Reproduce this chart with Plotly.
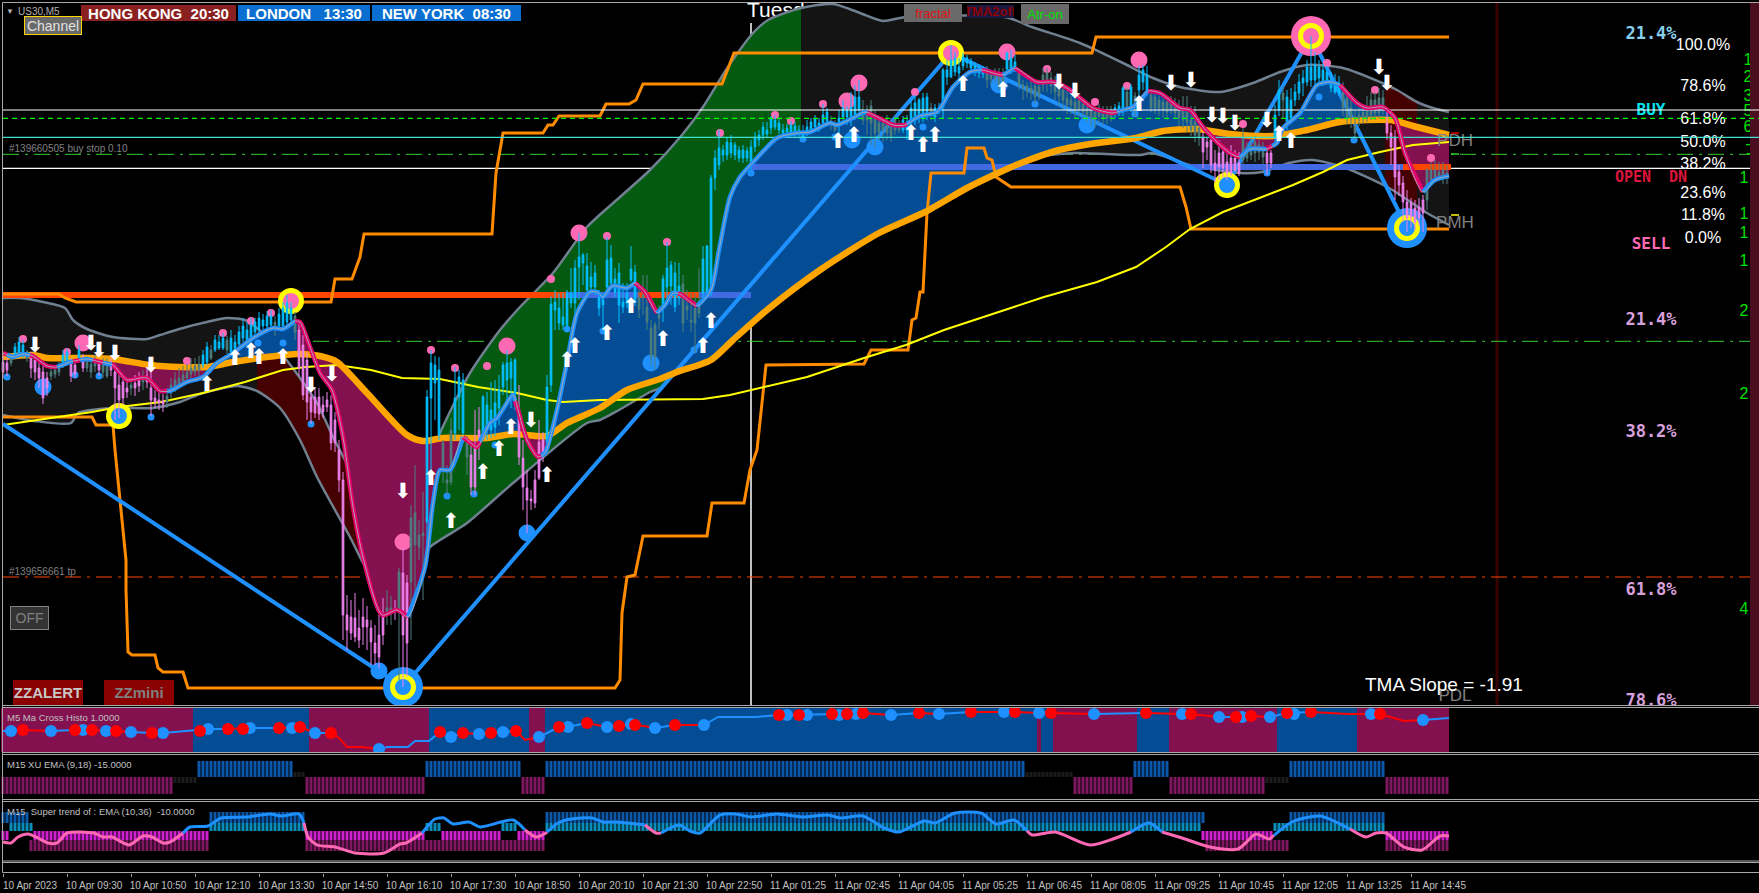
import numpy as np
import plotly.graph_objects as go

# ---- price pane: every level is read in points below the top of the window (axis reversed)
BAR_STEP = 4
BAR_KIND = ("vvtccctvvvvvtttc" "cvvcvtttvttvvvvv" "tvvtvvvvvttttttt" "ttcctccctccccccc"
            "cccctcccctvvvvvv" "vvvvvvvvvvvvvvvv" "ttvtvvttttcccctt" "tccctvvvcccccccc"
            "cvvvvvvvcccccccc" "ccccccccccccccct" "tttttccccctttttc" "cccccccccccccccc"
            "ccccccccccccccct" "tccccccttttttttt" "tccccccctccccccc" "cccccctttttccctt"
            "tttttttttttttttt" "ttttttccctctccct" "ttttttttttttvvvv" "vvvvvvttttttvvcc"
            "tcccccccccccccct" "ttttttttttvvvvvv" "vvvvtttttt")
BODY_TOP = [362,363,358,347,342,345,352,358,360,368,372,378,372,370,368,355,
 352,362,365,350,360,362,364,360,364,362,364,362,372,385,382,388,
 385,383,380,378,376,388,398,400,401,396,385,380,378,375,372,368,
 366,364,355,347,350,340,342,338,340,338,342,332,326,330,325,322,
 318,320,316,316,322,314,308,303,308,316,330,345,360,397,397,397,
 405,400,405,420,450,480,615,617,618,628,617,620,628,643,635,617,
 608,608,610,572,573,583,518,513,535,533,397,363,365,370,443,480,
 430,398,377,380,443,455,447,430,397,405,410,403,390,365,363,362,
 360,410,458,488,499,480,442,440,387,304,302,308,317,293,293,268,
 257,255,266,277,273,297,300,260,258,279,273,302,293,269,272,297,
 295,307,328,325,315,279,268,265,273,286,284,306,320,308,305,259,
 246,178,158,148,150,142,143,145,150,150,151,147,137,135,127,130,
 118,120,123,130,128,125,126,130,132,127,122,119,123,115,112,121,
 125,118,108,110,107,97,97,110,110,106,117,123,123,120,125,120,
 125,120,123,108,103,100,98,97,108,108,108,70,70,60,58,67,
 57,58,62,66,68,70,73,75,72,75,73,53,58,62,73,85,
 86,88,86,87,75,73,78,85,88,90,98,100,102,100,104,108,
 110,112,108,110,112,110,108,106,88,92,87,96,75,70,75,95,
 97,100,102,102,102,105,108,108,112,120,122,128,138,142,140,163,
 153,152,162,158,158,163,138,150,145,142,145,148,153,153,115,90,
 93,97,100,92,82,78,67,67,65,67,70,72,80,83,85,92,
 98,108,125,115,112,108,100,100,98,98,123,133,137,172,183,202,
 203,208,207,200,170,170,170,172,170,173]
BODY_BOTTOM = [372,370,363,356,355,354,358,368,372,378,398,388,376,374,372,365,
 362,376,374,358,368,368,372,366,370,372,376,370,388,400,398,392,
 388,388,386,382,382,400,402,403,404,402,392,388,384,382,378,374,
 372,370,365,362,358,350,348,348,350,352,352,344,338,342,338,332,
 330,326,326,325,330,326,326,322,320,332,368,395,402,412,413,414,
 412,407,443,443,480,615,630,633,637,640,627,627,642,653,657,635,
 612,612,612,610,635,643,582,545,547,536,522,398,383,435,467,483,
 482,433,397,433,457,487,487,437,433,430,430,427,408,387,380,378,
 395,457,487,500,501,503,478,453,443,385,310,323,325,325,303,303,
 267,263,290,287,287,308,305,287,283,292,305,307,303,280,302,309,
 298,322,357,357,318,308,287,286,307,298,323,310,322,323,313,293,
 293,288,178,165,155,155,153,155,158,158,158,162,147,140,135,134,
 128,127,130,133,132,132,132,134,136,132,130,127,127,123,121,125,
 130,125,117,117,118,117,110,120,120,123,133,132,130,133,137,130,
 130,130,130,120,120,118,118,116,113,117,110,107,77,77,72,73,
 66,63,68,71,73,74,80,79,78,85,84,69,68,67,85,88,
 92,93,97,95,85,80,86,92,96,100,105,105,112,110,112,115,
 118,120,116,118,118,118,112,110,108,107,107,106,90,82,90,108,
 108,108,110,112,110,113,118,120,122,130,135,138,152,147,165,170,
 167,168,173,173,170,173,160,158,155,153,152,157,163,163,137,110,
 100,122,118,100,93,83,82,80,80,78,82,80,88,92,92,108,
 117,118,133,118,118,118,115,113,113,108,133,147,177,185,202,218,
 217,222,218,213,200,180,177,177,177,177]
WICK_TOP = [356,358,354,343,337,340,350,352,355,360,366,372,368,366,362,350,
 349,358,360,345,354,358,360,355,360,358,358,358,364,375,376,380,
 378,375,372,370,368,372,390,392,394,388,378,372,368,366,364,358,
 358,356,350,342,345,335,335,333,336,330,335,326,318,322,318,318,
 312,314,311,310,316,308,302,295,302,312,322,335,352,380,388,388,
 396,392,395,412,440,472,595,600,593,610,598,606,620,625,615,598,
 590,596,600,568,548,575,505,465,520,492,390,350,356,357,440,465,
 418,367,370,373,436,440,410,407,395,392,382,380,375,362,350,358,
 358,385,440,470,490,470,420,432,375,296,290,293,293,290,268,260,
 233,253,253,262,265,290,293,237,245,268,263,283,283,246,265,287,
 275,275,320,322,305,275,242,261,262,263,275,290,293,293,268,246,
 245,175,150,130,145,138,135,142,146,145,147,140,132,130,122,122,
 116,115,118,124,124,121,122,125,125,120,118,115,118,104,108,116,
 120,110,100,106,92,85,80,100,105,100,110,118,118,115,118,115,
 120,116,115,100,95,98,93,93,103,104,103,68,60,45,52,58,
 53,55,58,62,64,66,66,70,68,68,68,52,50,55,68,80,
 82,80,80,82,68,68,72,76,82,84,90,96,96,96,100,104,
 104,108,104,106,106,106,104,102,86,88,84,92,66,65,66,90,
 92,96,98,96,96,98,100,96,96,106,106,118,132,138,132,150,
 140,145,148,145,150,152,128,142,138,136,140,142,148,150,105,80,
 86,90,88,84,74,70,60,36,52,60,64,66,72,74,76,82,
 90,96,110,108,104,96,92,92,88,90,112,125,130,165,176,190,
 198,200,198,195,168,162,160,162,162,165]
WICK_BOTTOM = [378,376,366,358,357,358,362,378,380,388,404,396,380,378,376,368,
 366,382,378,362,372,372,378,372,376,378,378,376,420,418,405,398,
 395,396,392,390,388,416,408,410,412,408,398,392,388,386,382,378,
 376,376,368,365,360,352,350,350,354,355,356,348,342,346,340,338,
 334,330,330,330,336,330,330,326,326,340,376,400,420,424,418,420,
 418,412,450,452,492,640,650,640,642,648,645,650,665,665,668,645,
 625,625,620,680,687,677,640,600,560,600,560,473,420,440,483,495,
 485,440,430,435,475,495,495,460,440,440,438,436,425,395,400,408,
 410,465,510,533,510,508,480,462,447,392,330,330,330,332,308,320,
 300,285,295,292,295,316,331,296,290,297,323,313,308,282,306,318,
 315,330,366,370,330,322,300,305,312,305,332,320,332,353,318,300,
 297,296,190,170,162,160,158,160,162,163,162,170,152,146,140,138,
 134,130,134,136,136,136,138,138,140,136,134,132,132,126,125,130,
 132,140,122,125,126,120,114,125,135,145,148,140,142,140,142,135,
 133,133,140,125,125,123,122,120,120,122,114,118,85,78,76,80,
 70,68,72,76,78,78,88,84,82,90,92,72,74,72,90,100,
 98,100,104,100,92,92,94,100,106,110,114,114,118,116,118,122,
 126,128,124,126,124,122,118,116,116,112,112,116,98,90,94,112,
 114,116,118,120,114,118,126,128,132,136,142,146,168,160,173,182,
 180,178,180,176,172,176,164,162,160,162,160,164,175,168,145,116,
 118,130,124,106,100,96,86,87,88,82,86,84,92,94,96,116,
 124,128,140,126,124,122,120,120,118,115,140,165,200,196,222,232,
 228,230,226,232,210,186,182,180,184,184]

UPPER_X = [3,20,43,65,73,87,113,147,160,190,207,227,245,253,270,285,300,317,333,350,372,395,425,440,470,500,520,553,587,620,650,682,703,726,753,768,801,833,860,883,906,1005,1032,1080,1100,1123,1153,1180,1220,1253,1280,1307,1343,1380,1397,1417,1433,1449]
UPPER_Y = [298,298,302,308,320,329,337,339,335,326,322,318,320,325,340,358,378,403,437,470,520,530,470,433,373,330,307,273,227,197,170,135,107,70,33,20,8,4,13,21,17,17,27,43,52,63,78,87,92,83,72,65,68,82,90,102,108,112]
LOWER_X = [3,34,71,78,115,153,180,203,237,257,280,300,317,350,372,400,425,430,467,513,587,600,619,650,660,680,700,750,800,850,900,950,1000,1050,1075,1140,1152,1190,1239,1262,1289,1312,1343,1389,1427,1449]
LOWER_Y = [415,421,423,413,408,408,402,393,386,391,408,440,477,537,578,600,555,547,523,483,423,420,410,392,388,368,350,310,278,240,208,180,165,155,153,155,153,165,173,172,163,160,167,188,213,225]
SLOW_X = [3,33,47,87,113,150,180,207,233,267,297,320,337,367,407,423,443,487,513,547,567,600,627,660,677,711,733,767,820,879,925,967,998,1021,1059,1097,1136,1163,1197,1230,1273,1307,1340,1390,1417,1449]
SLOW_Y = [357,355,358,358,359,365,367,367,362,357,354,356,362,393,435,441,438,438,434,436,423,408,390,379,372,360,340,310,270,233,212,188,173,163,150,143,138,131,129,134,136,130,122,120,127,135]
FAST_X = [3,13,23,33,47,57,70,87,100,113,127,140,147,160,170,187,203,217,233,253,273,283,295,300,310,320,332,343,353,363,382,397,408,425,433,440,450,463,477,490,497,513,518,527,538,545,557,567,577,590,597,603,612,627,635,645,657,665,673,680,697,711,719,730,740,757,777,797,810,830,837,853,865,883,893,905,920,937,953,970,982,1003,1015,1037,1053,1067,1080,1093,1113,1123,1133,1148,1160,1180,1190,1203,1217,1230,1240,1250,1267,1277,1283,1300,1317,1330,1340,1357,1367,1383,1395,1405,1423,1435,1449]
FAST_Y = [353,357,354,356,366,367,362,359,362,365,380,378,378,391,391,382,377,363,353,338,328,329,321,322,347,373,390,437,507,557,615,610,617,567,503,470,470,437,447,423,418,395,410,440,457,453,410,362,313,292,292,297,286,288,283,292,313,305,293,294,306,290,250,197,177,158,138,133,132,123,125,118,112,120,125,125,116,112,87,72,70,75,68,82,82,88,98,108,113,110,107,91,93,108,110,127,142,153,157,149,149,143,128,113,85,82,85,103,108,107,118,153,192,180,176]
FAST_TURNS = [3,7,30,57,73,80,93,103,112,167,295,408,463,480,515,541,635,657,678,697,867,907,982,1003,1015,1117,1148,1240,1267,1272,1340,1423,1449]
FILL_TURNS = [112,205,297,482,518,553,1205,1283,1395,1449]
TREND_X = [3,92,119,161,203,245,283,306,337,371,402,440,478,517,547,563,600,703,730,761,807,864,906,944,983,1044,1097,1136,1166,1190,1223,1267,1293,1323,1347,1380,1413,1449]
TREND_Y = [425,412,407,402,393,382,370,367,365,370,378,379,387,393,400,402,400,399,395,388,377,358,345,330,317,297,282,267,247,229,212,195,185,172,160,152,145,142]
RESIST_X = [3,59,65,76,331,335,352,360,364,492,496,503,543,548,553,559,600,606,629,636,643,722,734,1092,1096,1449]
RESIST_Y = [294,294,298,302,302,279,279,257,234,234,173,133,133,125,125,116,116,104,104,100,84,84,53,53,37,37]
SUPPORT_X = [3,92,96,113,115,126,126,127,128,132,155,158,163,183,188,615,620,622,627,635,643,707,712,744,750,757,762,766,864,871,908,912,916,920,923,927,931,964,967,984,987,992,996,1011,1180,1186,1191,1449]
SUPPORT_Y = [417,417,425,425,450,560,590,630,652,655,655,668,672,672,688,688,680,613,577,575,536,536,503,503,470,450,400,365,364,350,350,320,318,292,292,213,173,173,148,148,158,160,177,187,187,207,229,229]
ZIGZAG_X = [3,403,951,1227,1311,1407]
ZIGZAG_Y = [424,687,53,185,36,228]

PIVOT_HIGH_X = [291,951,1311]
PIVOT_HIGH_Y = [301,53,36]
PIVOT_LOW_X = [119,403,1227,1407]
PIVOT_LOW_Y = [416,687,185,228]
PINK_LARGE_X = [83,403,507,579,859,847,1007,1139]
PINK_LARGE_Y = [343,542,346,233,83,101,52,60]
PINK_SMALL_X = [23,67,187,223,251,271,431,455,487,551,607,667,720,775,791,823,915,1047,1095,1127,1243,1327,1375,1431]
PINK_SMALL_Y = [339,352,361,333,321,313,350,368,366,279,236,242,133,115,121,104,92,69,102,86,124,63,90,158]
BLUE_LARGE_X = [43,379,527,651,852,875,999,1087]
BLUE_LARGE_Y = [387,671,533,363,140,147,85,125]
BLUE_SMALL_X = [7,75,99,151,258,283,311,447,474,495,567,603,694,751,803,835,923,1035,1135,1267,1319,1354]
BLUE_SMALL_Y = [377,375,376,417,343,343,424,496,494,445,329,331,350,173,139,137,127,104,114,173,97,140]
ARROW_UP_X = [207,235,251,259,283,431,451,483,499,511,547,567,575,607,631,663,703,711,838,854,911,923,935,963,1003,1139,1279,1291]
ARROW_UP_Y = [386,360,353,359,359,480,523,474,451,429,477,362,348,335,308,341,348,323,143,137,135,147,137,86,92,106,136,143]
ARROW_DOWN_X = [35,91,99,115,151,311,332,403,531,1059,1075,1171,1191,1212,1223,1235,1267,1379,1387]
ARROW_DOWN_Y = [347,345,352,355,367,387,376,493,422,84,93,85,82,117,118,125,122,69,85]

# ---- lower panes
HISTO_RUNS = [48,29,30,25,4,123,1,3,21,8,27,20,23]            # alternating bear / bull bars
CROSS_X = [3,22,51,74,92,116,131,152,163,192,205,228,250,279,300,315,331,339,347,362,379,388,408,415,429,440,451,463,479,491,503,516,525,539,559,567,587,607,619,632,655,675,704,718,756,779,799,832,847,863,891,919,939,971,1004,1015,1039,1051,1094,1146,1182,1191,1219,1236,1251,1270,1287,1311,1348,1371,1380,1404,1423,1449]
CROSS_Y = [731,730,731,730,730,731,732,733,733,731,729,729,728,728,727,733,733,738,747,747,749,747,747,741,741,732,737,733,734,733,732,731,740,737,727,727,723,727,726,724,728,725,725,717,717,715,715,714,714,713,715,713,714,712,712,712,713,713,714,713,714,714,717,717,716,717,713,712,714,714,714,721,720,718]
CROSS_BLUE_X = [11,51,83,106,131,163,208,250,292,315,379,451,479,503,539,568,607,631,655,704,787,807,839,856,891,939,1004,1039,1094,1182,1219,1242,1270,1294,1371,1423]
CROSS_BLUE_Y = [731,731,730,731,732,733,729,728,728,733,749,737,734,732,737,727,727,724,728,725,715,715,715,714,715,714,712,713,714,714,717,717,717,714,714,720]
CROSS_RED_X = [23,75,92,116,152,200,228,243,279,300,331,440,463,491,516,559,587,619,635,675,779,799,832,847,863,919,971,1015,1051,1146,1191,1236,1251,1287,1311,1380]
CROSS_RED_Y = [730,730,730,731,733,731,729,729,728,727,733,732,733,733,731,727,723,726,725,725,715,715,714,714,713,713,712,712,713,713,714,717,716,713,712,714]
XU_RUNS = [("bear",43),("idle_dn",6),("bull",24),("idle_up",3),("bear",30),("bull",24),("bear",6),("bull",120),("idle_up",12),("bear",15),("bull",9),("bear",24),("idle_dn",6),("bull",24),("bear",16)]
TREND_OUTER_RUNS = [("bull",7),("bear",45),("bull",24),("bear",60),("bull",165),("bear",21),("bull",24),("bear",16)]
TREND_INNER_RUNS = [("bear",2),("bull",6),("bear",44),("bull",24),("bear",30),("bull",4),("bear",15),("bull",4),("bear",7),("bull",164),("bear",18),("bull",28),("bear",16)]
SUPER_X = [3,11,18,28,38,48,57,67,94,103,112,129,143,152,163,170,183,190,208,221,246,270,281,299,304,308,317,335,355,384,400,406,422,435,444,453,469,480,513,525,536,546,558,571,592,603,616,645,656,661,679,690,700,720,736,751,777,802,828,840,863,884,899,924,935,955,981,996,1014,1032,1055,1090,1113,1131,1149,1162,1182,1210,1238,1256,1269,1292,1320,1348,1366,1376,1386,1404,1422,1440,1449]
SUPER_Y = [842,843,837,834,838,843,843,833,833,837,837,845,836,837,843,842,833,827,826,818,817,814,816,814,823,837,845,847,853,853,844,843,833,819,818,824,822,827,820,830,837,833,823,819,818,822,822,825,833,833,825,831,833,815,814,817,814,817,815,818,816,828,832,821,823,813,813,824,820,835,832,845,839,832,823,832,838,847,849,834,839,822,816,828,837,833,833,847,850,836,836]
SUPER_TURNS = [3,183,304,422,525,547,645,661,1027,1131,1162,1274,1350,1449]

TIME_LABELS = ["10 Apr 2023","10 Apr 09:30","10 Apr 10:50","10 Apr 12:10","10 Apr 13:30","10 Apr 14:50","10 Apr 16:10","10 Apr 17:30","10 Apr 18:50","10 Apr 20:10","10 Apr 21:30","10 Apr 22:50","11 Apr 01:25","11 Apr 02:45","11 Apr 04:05","11 Apr 05:25","11 Apr 06:45","11 Apr 08:05","11 Apr 09:25","11 Apr 10:45","11 Apr 12:05","11 Apr 13:25","11 Apr 14:45"]
FIB_LABELS = ["100.0%","78.6%","61.8%","50.0%","38.2%","23.6%","11.8%","0.0%"]
FIB_LEVELS = [46,87,120,143,165,194,216,239]
ZONE_LABELS = ["21.4%","BUY","OPEN\u00a0\u00a0DN","SELL","21.4%","38.2%","61.8%","78.6%"]
ZONE_LEVELS = [35,111,178,245,321,433,591,702]
ZONE_COLORS = ["#87ceeb","#00e5ee","#dc143c","#ff69b4","#d8a0dc","#d8a0dc","#d8a0dc","#d8a0dc"]
ZONE_SIZES = [17,16,15,16,17,17,17,17]
GREEN_LABELS = ["1","2","3","5","6","-","-","1","1","1","1","2","2","4"]
GREEN_LEVELS = [61,78,97,112,128,145,154,179,215,234,262,312,395,610]
GREEN_POS = [1748,1748,1748,1748,1748,1748,1749,1744,1744,1744,1744,1744,1744,1744]

W, H = 1759, 893
BLUE, PINK = "#1e90ff", "#e6006e"
FILL_BLUE, FILL_PURPLE, FILL_GREEN, FILL_MAROON, FILL_DARK = "#044d94", "#83104f", "#045a10", "#450000", "#141414"
RUN_COLOR = {"bull": "#0b57a8", "bear": "#7f1660", "idle_up": "#1c1c1c", "idle_dn": "#1c1c1c"}

fig = go.Figure()
bar_x = 3 + BAR_STEP * np.arange(len(BODY_TOP))


def line(x, y, color, width, dash=None, axis="y", smooth=False):
    style = dict(color=color, width=width, dash=dash)
    if smooth:
        style.update(shape="spline", smoothing=0.7)
    fig.add_trace(go.Scatter(x=x, y=y, mode="lines", yaxis=axis, hoverinfo="skip", showlegend=False, line=style))


def clip(xs, ys, a, b):
    xs, ys = np.asarray(xs, float), np.asarray(ys, float)
    keep = (xs > a) & (xs < b)
    return (np.r_[a, xs[keep], b], np.r_[np.interp(a, xs, ys), ys[keep], np.interp(b, xs, ys)])


def band(a, b, color, tx, ty, lx, ly):
    x1, y1 = clip(tx, ty, a, b)
    x2, y2 = clip(lx, ly, a, b)
    fig.add_trace(go.Scatter(x=np.r_[x1, x2[::-1]], y=np.r_[y1, y2[::-1]], mode="lines", fill="toself",
                             fillcolor=color, line=dict(width=0), hoverinfo="skip", showlegend=False))


def dots(x, y, size, color, axis="y", edge=None, edge_w=0):
    fig.add_trace(go.Scatter(x=x, y=y, mode="markers", yaxis=axis, hoverinfo="skip", showlegend=False, cliponaxis=True,
                             marker=dict(size=size, color=color, line=dict(color=edge or color, width=edge_w))))


def words(x, y, text, color, size, family="Liberation Sans", axis="y", pos="middle center", weight="normal"):
    fig.add_trace(go.Scatter(x=x, y=y, text=text, mode="text", yaxis=axis, hoverinfo="skip", showlegend=False,
                             textposition=pos, textfont=dict(color=color, size=size, family=family, weight=weight)))


EDGE = 1759
# behind the indicator fills
words([747], [12], ["Tuesday"], "#ffffff", 21, pos="middle right")
line([751, 751], [23, 705], "#ffffff", 1.5)
line([1497, 1497], [3, 705], "#3a0000", 3)
line([3, EDGE], [168.3, 168.3], "#ffffff", 1.2)
line([3, 1750], [154.3, 154.3], "#32cd32", 1, dash="16px,6px,3px,6px")
line([3, 1750], [341.3, 341.3], "#32cd32", 1, dash="16px,6px,3px,6px")
line([3, 1750], [577, 577], "#ff4500", 1, dash="16px,6px,3px,6px")

for a, b, c in [(3, 257, FILL_DARK), (257, 425, FILL_MAROON), (425, 801, FILL_GREEN), (801, 1385, FILL_DARK),
                (1385, 1417, FILL_MAROON), (1417, 1449, FILL_DARK)]:
    band(a, b, c, UPPER_X, UPPER_Y, LOWER_X, LOWER_Y)
line(UPPER_X, UPPER_Y, "#708090", 2.5, smooth=True)
line(LOWER_X, LOWER_Y, "#708090", 2.5, smooth=True)
for k, (a, b) in enumerate(zip(FILL_TURNS[:-1], FILL_TURNS[1:])):
    band(a, b, FILL_PURPLE if k % 2 == 0 else FILL_BLUE, FAST_X, FAST_Y, SLOW_X, SLOW_Y)

for x0, x1, lvl, c in [(3, 566, 295, "#ff4500"), (566, 638, 295, "#4169e1"), (638, 699, 295, "#ff4500"),
                       (699, 751, 295, "#4169e1"), (751, 1403, 167, "#4169e1"), (1403, 1451, 167, "#ff4500")]:
    line([x0, x1], [lvl, lvl], c, 6)
line(RESIST_X, RESIST_Y, "#ff8c00", 3)
line(SUPPORT_X, SUPPORT_Y, "#ff8c00", 3)
line(TREND_X, TREND_Y, "#ffff00", 2)
line(ZIGZAG_X, ZIGZAG_Y, BLUE, 4)
line(SLOW_X, SLOW_Y, "#ffa500", 6.5, smooth=True)

dots([403, 1311, 1407], [687, 36, 228], 40, [BLUE, "#ff69b4", BLUE])
dots(PIVOT_HIGH_X, PIVOT_HIGH_Y, 21, "#ff69b4", edge="#ffff00", edge_w=5)
dots(PIVOT_LOW_X, PIVOT_LOW_Y, 21, BLUE, edge="#ffff00", edge_w=5)
dots(PINK_LARGE_X, PINK_LARGE_Y, 17, "#ff69b4")
dots(PINK_SMALL_X, PINK_SMALL_Y, 8, "#ff69b4")
dots(BLUE_LARGE_X, BLUE_LARGE_Y, 17, BLUE)
dots(BLUE_SMALL_X, BLUE_SMALL_Y, 7, BLUE)

words([1651] * 8, ZONE_LEVELS, ZONE_LABELS, ZONE_COLORS, ZONE_SIZES, family="DejaVu Sans Mono, monospace", weight="bold")
words([1703] * 8, FIB_LEVELS, FIB_LABELS, "#ffffff", 16)
words(GREEN_POS, GREEN_LEVELS, GREEN_LABELS, "#00e000", 16)
words([1455, 1455, 1455], [142, 224, 697], ["PDH", "PMH", "PDL"], "#808080", 17)
for lvl, c in [(133, "#e00000"), (154, "#32cd32"), (215, "#ffff00")]:
    line([1451, 1459], [lvl, lvl], c, 1.5)
fig.add_trace(go.Scatter(x=[1750, 1759, 1759, 1750, 1750], y=[3, 3, 705, 705, 3], mode="lines", fill="toself",
                         fillcolor="#4a0e20", line=dict(width=0), hoverinfo="skip", showlegend=False))

# candles
for kind, color in [("c", "#00bfff"), ("v", "#ee82ee"), ("t", "#4f7f7f")]:
    m = np.array([k == kind for k in BAR_KIND])
    side = dict(line=dict(color=color, width=1), fillcolor=color)
    fig.add_trace(go.Candlestick(x=bar_x[m], open=np.array(BODY_BOTTOM)[m], close=np.array(BODY_TOP)[m],
                                 low=np.array(WICK_TOP)[m], high=np.array(WICK_BOTTOM)[m], yaxis="y6",
                                 increasing=side, decreasing=side, whiskerwidth=0, hoverinfo="skip", showlegend=False))

# top layer
line([3, EDGE], [110, 110], "#ffffff", 1.2, axis="y7")
line([3, EDGE], [118.3, 118.3], "#00ff00", 1.2, dash="5px,4px", axis="y7")
line([3, EDGE], [137.3, 137.3], "#40e0d0", 1.2, axis="y7")
for k, (a, b) in enumerate(zip(FAST_TURNS[:-1], FAST_TURNS[1:])):
    xs, ys = clip(FAST_X, FAST_Y, a, b)
    line(xs, ys, PINK if k % 2 == 0 else BLUE, 4.5, axis="y7", smooth=True)
line(FAST_X, FAST_Y, "#a8a8a8", 1, axis="y7", smooth=True)
words(ARROW_UP_X, ARROW_UP_Y, ["\u2b06"] * len(ARROW_UP_X), "#ffffff", 21, family="DejaVu Sans", axis="y7")
words(ARROW_DOWN_X, ARROW_DOWN_Y, ["\u2b07"] * len(ARROW_DOWN_X), "#ffffff", 21, family="DejaVu Sans", axis="y7")

# pane 2: histogram, cross line and dots
colors, k = [], 0
for run in HISTO_RUNS:
    colors += [FILL_PURPLE if k % 2 == 0 else FILL_BLUE] * run
    k += 1
fig.add_trace(go.Bar(x=bar_x, y=[44] * len(bar_x), base=708, width=BAR_STEP, marker=dict(color=colors, line=dict(width=0)),
                     yaxis="y2", hoverinfo="skip", showlegend=False))
marks = sorted([(x, BLUE) for x in CROSS_BLUE_X] + [(x, "#ff0000") for x in CROSS_RED_X])
prev_x, prev_c = 3, BLUE
for x, c in marks + [(1449, None)]:
    if x > prev_x:
        xs, ys = clip(CROSS_X, CROSS_Y, prev_x, x)
        line(xs, ys, prev_c, 2, axis="y2")
    prev_x, prev_c = x, c
dots(CROSS_BLUE_X, CROSS_BLUE_Y, 12, BLUE, axis="y2")
dots(CROSS_RED_X, CROSS_RED_Y, 12, "#ff0000", axis="y2")


def run_colors(runs, palette):
    out = []
    for name, n in runs:
        out += [palette[name]] * n
    return out


def run_names(runs):
    out = []
    for name, n in runs:
        out += [name] * n
    return np.array(out)


# pane 3: XU EMA
names = run_names(XU_RUNS)
spans = {"bull": (761, 16), "bear": (777, 17), "idle_up": (772, 5), "idle_dn": (777, 6)}
fig.add_trace(go.Bar(x=bar_x, y=[spans[n][1] for n in names], base=[spans[n][0] for n in names], width=3,
                     marker=dict(color=run_colors(XU_RUNS, RUN_COLOR), line=dict(width=0)), yaxis="y3",
                     hoverinfo="skip", showlegend=False))

# pane 4: super trend
names = run_names(TREND_OUTER_RUNS)
spans = {"bull": (812, 11), "bear": (840, 11)}
fig.add_trace(go.Bar(x=bar_x, y=[spans[n][1] for n in names], base=[spans[n][0] for n in names], width=3,
                     marker=dict(color=run_colors(TREND_OUTER_RUNS, RUN_COLOR), line=dict(width=0)), yaxis="y4",
                     hoverinfo="skip", showlegend=False))
names = run_names(TREND_INNER_RUNS)
spans = {"bull": (823, 8), "bear": (831, 9)}
fig.add_trace(go.Bar(x=bar_x, y=[spans[n][1] for n in names], base=[spans[n][0] for n in names], width=3,
                     marker=dict(color=run_colors(TREND_INNER_RUNS, {"bull": "#0a8ebc", "bear": "#d020d0"}), line=dict(width=0)),
                     yaxis="y4", hoverinfo="skip", showlegend=False))
for k, (a, b) in enumerate(zip(SUPER_TURNS[:-1], SUPER_TURNS[1:])):
    xs, ys = clip(SUPER_X, SUPER_Y, a, b)
    line(xs, ys, "#ff69b4" if k % 2 == 0 else BLUE, 3, axis="y4", smooth=True)

# the empty strip above the time scale carries the time axis
fig.add_trace(go.Scatter(x=[3], y=[868], mode="markers", marker=dict(size=1, opacity=0), yaxis="y5",
                         hoverinfo="skip", showlegend=False))


def dom(top, bot):
    return [1 - bot / H, 1 - top / H]


hidden = dict(visible=False, showgrid=False, zeroline=False, fixedrange=True)
PANES = [(3, 705), (708, 752), (754.5, 799), (801.5, 861), (862.5, 872.5)]
layout = dict(width=W, height=H, margin=dict(l=0, r=0, t=0, b=0), paper_bgcolor="#000000", plot_bgcolor="#000000",
              showlegend=False, hovermode=False, barmode="overlay", boxgap=0.4, dragmode=False,
              xaxis=dict(range=[0, W], domain=[0, 1], anchor="y5", showgrid=False, zeroline=False, fixedrange=True,
                         rangeslider=dict(visible=False), tickmode="array",
                         tickvals=[3 + 16 * BAR_STEP * i for i in range(len(TIME_LABELS))], ticktext=TIME_LABELS,
                         ticks="outside", ticklen=3, tickcolor="#a0a0a0", ticklabelshift=27,
                         tickfont=dict(family="Liberation Sans", size=10, color="#c0c0c0")))
for i, (t, b) in enumerate(PANES):
    key = "yaxis" if i == 0 else f"yaxis{i + 1}"
    layout[key] = dict(hidden, range=[b, t], domain=dom(t, b), anchor="x")
layout["yaxis6"] = dict(hidden, range=[705, 3], overlaying="y", anchor="x")
layout["yaxis7"] = dict(hidden, range=[705, 3], overlaying="y", anchor="x")

# pane frames
shapes = []
for y in [2.5, 705.5, 707.5, 752.5, 754.5, 799.5, 801.5, 861, 862.5, 872.5]:
    shapes.append(dict(type="line", xref="paper", yref="paper", x0=2.5 / W, x1=1, y0=1 - y / H, y1=1 - y / H,
                       line=dict(color="#a8a8a8", width=1)))
shapes.append(dict(type="line", xref="paper", yref="paper", x0=2.5 / W, x1=2.5 / W, y0=1 - 2.5 / H, y1=1 - 872.5 / H,
                   line=dict(color="#a8a8a8", width=1)))
layout["shapes"] = shapes


def note(text, x, y, color, size, bold=False, family="Liberation Sans", anchor="center", bg=None, w=None, h=None, edge=None, yref="y"):
    body = f"<b>{text}</b>" if bold else text
    return dict(text=body, x=x, y=y, xref="x", yref=yref, xanchor=anchor, yanchor="middle", showarrow=False, align="center",
                font=dict(color=color, size=size, family=family), bgcolor=bg, bordercolor=edge, borderwidth=1 if edge else 0,
                borderpad=0, width=w, height=h)


layout["annotations"] = [
    note("HONG KONG\u00a0\u00a020:30", 158.5, 13, "#ffffff", 15, True, bg="#8b2020", w=155, h=16),
    note("LONDON\u00a0\u00a0\u00a013:30", 304, 13, "#ffffff", 15, True, bg="#0a6fd0", w=132, h=16),
    note("NEW YORK\u00a0\u00a008:30", 446.5, 13, "#ffffff", 15, True, bg="#0a6fd0", w=149, h=16),
    note("Channel", 53, 25.5, "#e0e0e0", 14, bg="#696969", w=56, h=17, edge="#ffd700"),
    note("US30,M5", 18, 11, "#b0b0b0", 10, anchor="left"),
    note("\u25bc", 10, 11, "#b0b0b0", 8),
    note("fractal", 933, 13, "#e01010", 13, bg="#696969", w=58, h=18),
    note("TMA2off", 990, 11, "#8b0000", 13, True, bg="#191942", w=47, h=13),
    note("Atr-on", 1045, 14, "#00e000", 13, bg="#696969", w=48, h=20),
    note("OFF", 29.5, 618, "#808080", 14, bg="#333333", w=37, h=22, edge="#808080"),
    note("ZZALERT", 48, 692.5, "#c8c8c8", 15, True, bg="#8b0000", w=70, h=25),
    note("ZZmini", 138.5, 692.5, "#808080", 15, True, bg="#8b0000", w=70, h=25),
    note("#139660505 buy stop 0.10", 9, 148, "#808080", 10, anchor="left"),
    note("#139656661 tp", 9, 571, "#808080", 10, anchor="left"),
    note("TMA Slope = -1.91", 1365, 684, "#ffffff", 19, anchor="left"),
    note("M5 Ma Cross Histo 1.0000", 7, 717, "#c0c0c0", 9.5, anchor="left", yref="y2"),
    note("M15 XU EMA (9,18) -15.0000", 7, 764, "#c0c0c0", 9.5, anchor="left", yref="y3"),
    note("M15\u00a0\u00a0Super trend of : EMA (10,36)\u00a0\u00a0-10.0000", 7, 811, "#c0c0c0", 9.5, anchor="left", yref="y4"),
]
fig.update_layout(**layout)
fig.write_html("out.html", config=dict(displayModeBar=False, staticPlot=True),
               post_script="document.body.style.margin='0';document.body.style.background='#000';document.body.style.overflow='hidden';")
